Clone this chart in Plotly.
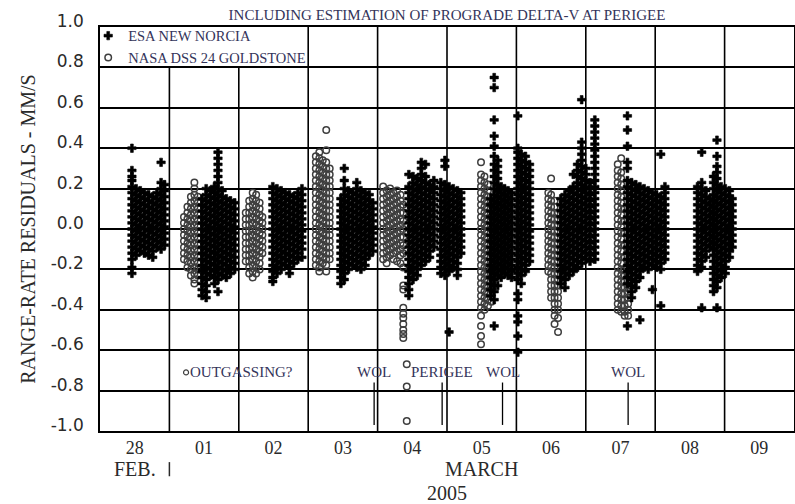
import plotly.graph_objects as go

# Range-rate residuals (mm/s) per tracking pass.
# Each pass is a list of (time in days since 28 Feb 2005 00:00 UT, [residuals ...]).

esa_feb28 = [
    (0.46, [.40, .29, .26, .24, .21, .18, .15, .12, .09, .06, .03, .00, -.03, -.06, -.09, -.12, -.15, -.19, -.22]),
    (0.52, [.20, .17, .14, .11, .08, .05, .02, -.01, -.04, -.07, -.10, -.13]),
    (0.58, [.19, .16, .13, .10, .07, .04, .01, -.02, -.05, -.08, -.11]),
    (0.64, [.18, .15, .12, .09, .06, .03, .00, -.03, -.06, -.09, -.12]),
    (0.70, [.17, .14, .11, .08, .05, .02, -.01, -.04, -.07, -.10, -.13]),
    (0.76, [.16, .13, .10, .07, .04, .01, -.02, -.05, -.08, -.11, -.14]),
    (0.82, [.18, .15, .12, .09, .06, .03, .00, -.03, -.06, -.09]),
    (0.88, [.33, .23, .20, .17, .14, .11, .08, .05, .02, -.01, -.04, -.07, -.10]),
    (0.93, [.22, .19, .16, .13, .10, .07, .04, .01, -.02, -.05, -.08]),
]

esa_mar01 = [
    (1.47, [.15, .12, .09, .06, .03, .00, -.03, -.06, -.09, -.12, -.15, -.18, -.21, -.24, -.27, -.30, -.33]),
    (1.53, [.20, .17, .14, .11, .08, .05, .02, -.01, -.04, -.07, -.10, -.13, -.16, -.19, -.22, -.25, -.28, -.31, -.34]),
    (1.59, [.19, .16, .13, .10, .07, .04, .01, -.02, -.05, -.08, -.11, -.14, -.17, -.20, -.23]),
    (1.65, [.21, .18, .15, .12, .09, .06, .03, .00, -.03, -.06, -.09, -.12, -.15, -.18, -.21, -.24, -.27]),
    (1.70, [.38, .35, .32, .29, .26, .23, .20, .17, .14, .11, .08, .05, .02, -.01, -.04, -.07, -.10, -.13, -.16, -.19, -.22, -.25, -.31]),
    (1.76, [.19, .16, .13, .10, .07, .04, .01, -.02, -.05, -.08, -.11, -.14, -.17, -.20, -.23]),
    (1.82, [.15, .12, .09, .06, .03, .00, -.03, -.06, -.09, -.12, -.15, -.18, -.21, -.24]),
    (1.88, [.14, .11, .08, .05, .02, -.01, -.04, -.07, -.10, -.13, -.16, -.19, -.22]),
    (1.94, [.13, .10, .07, .04, .01, -.02, -.05, -.08, -.11, -.14, -.17, -.20]),
]

esa_mar02 = [
    (2.49, [.21, .18, .15, .12, .09, .06, .03, .00, -.03, -.06, -.09, -.12, -.15, -.18, -.21, -.24, -.26]),
    (2.55, [.20, .17, .14, .11, .08, .05, .02, -.01, -.04, -.07, -.10, -.13, -.16, -.19, -.22]),
    (2.61, [.19, .16, .13, .10, .07, .04, .01, -.02, -.05, -.08, -.11, -.14, -.17, -.20]),
    (2.67, [.18, .15, .12, .09, .06, .03, .00, -.03, -.06, -.09, -.12, -.15, -.18]),
    (2.73, [.17, .14, .11, .08, .05, .02, -.01, -.04, -.07, -.10, -.13, -.16, -.19, -.22]),
    (2.79, [.16, .13, .10, .07, .04, .01, -.02, -.05, -.08, -.11, -.14, -.17]),
    (2.85, [.18, .15, .12, .09, .06, .03, .00, -.03, -.06, -.09, -.12, -.15]),
    (2.91, [.20, .17, .14, .11, .08, .05, .02, -.01, -.04, -.07, -.10, -.14]),
]

esa_mar03 = [
    (3.47, [.15, .12, .09, .06, .03, .00, -.03, -.06, -.09, -.12, -.15, -.18, -.21, -.24, -.27]),
    (3.52, [.30, .24, .20, .17, .14, .11, .08, .05, .02, -.01, -.04, -.07, -.10, -.13, -.16, -.19, -.22, -.25]),
    (3.58, [.19, .16, .13, .10, .07, .04, .01, -.02, -.05, -.08, -.11, -.14, -.17, -.20]),
    (3.64, [.18, .15, .12, .09, .06, .03, .00, -.03, -.06, -.09, -.12, -.15, -.18]),
    (3.70, [.23, .20, .17, .14, .11, .08, .05, .02, -.01, -.04, -.07, -.10, -.13, -.16, -.19]),
    (3.76, [.19, .16, .13, .10, .07, .04, .01, -.02, -.05, -.08, -.11, -.14, -.17, -.20]),
    (3.82, [.18, .15, .12, .09, .06, .03, .00, -.03, -.06, -.09, -.12, -.15, -.18]),
    (3.88, [.17, .14, .11, .08, .05, .02, -.01, -.04, -.07, -.10, -.13]),
    (3.93, [.13, .10, .07, .04, .01, -.02, -.05, -.08, -.11]),
]

esa_mar04 = [
    (4.45, [.27, .21, .18, .15, .12, .09, .06, .03, .00, -.03, -.06, -.09, -.12, -.15, -.18, -.21, -.24, -.27, -.30, -.33]),
    (4.51, [.26, .23, .20, .17, .14, .11, .08, .05, .02, -.01, -.04, -.07, -.10, -.13, -.16, -.19, -.22, -.25]),
    (4.57, [.25, .22, .19, .16, .13, .10, .07, .04, .01, -.02, -.05, -.08, -.11, -.14, -.17, -.20, -.23]),
    (4.63, [.33, .30, .27, .24, .21, .18, .15, .12, .09, .06, .03, .00, -.03, -.06, -.09, -.12, -.15, -.18]),
    (4.69, [.32, .26, .23, .20, .17, .14, .11, .08, .05, .02, -.01, -.04, -.07, -.10, -.13, -.16]),
    (4.75, [.22, .19, .16, .13, .10, .07, .04, .01, -.02, -.05, -.08, -.11, -.14]),
    (4.81, [.24, .21, .18, .15, .12, .09, .06, .03, .00, -.03, -.06, -.09]),
    (4.91, [.23, .20, .17, .14, .11, .08, .05, .02, -.01, -.04, -.07, -.10, -.13, -.16, -.19, -.22]),
    (4.97, [.34, .31, .22, .19, .16, .13, .10, .07, .04, .01, -.02, -.05, -.08, -.11, -.14, -.17, -.20, -.23]),
    (5.03, [.21, .18, .15, .12, .09, .06, .03, .00, -.03, -.06, -.09, -.12, -.15, -.18, -.21, -.51]),
    (5.09, [.20, .17, .14, .11, .08, .05, .02, -.01, -.04, -.07, -.10, -.13, -.16, -.19]),
    (5.15, [.19, .16, .13, .10, .07, .04, .01, -.02, -.05, -.08, -.11, -.14, -.17, -.20, -.23]),
    (5.20, [.18, .15, .12, .09, .06, .03, .00, -.03, -.06, -.09, -.12]),
]

esa_mar05 = [
    (5.63, [.15, .12, .09, .06, .03, .00, -.03, -.06, -.09, -.12, -.15, -.18, -.21, -.24, -.27, -.30, -.33]),
    (5.68, [.75, .70, .54, .46, .41, .36, .32, .29, .26, .23, .20, .17, .14, .11, .08, .05, .02, -.01, -.04,
            -.07, -.10, -.13, -.16, -.19, -.22, -.25, -.28, -.31, -.35, -.48]),
    (5.73, [.34, .31, .28, .25, .22, .19, .16, .13, .10, .07, .04, .01, -.02, -.05, -.08, -.11, -.14, -.17, -.20, -.23, -.28]),
    (5.78, [.21, .18, .15, .12, .09, .06, .03, .00, -.03, -.06, -.09, -.12, -.15, -.18, -.21, -.24]),
    (5.83, [.20, .17, .14, .11, .08, .05, .02, -.01, -.04, -.07, -.10, -.13, -.16, -.19, -.22]),
    (5.88, [.19, .16, .13, .10, .07, .04, .01, -.02, -.05, -.08, -.11, -.14, -.17, -.20, -.23]),
    (5.93, [.18, .15, .12, .09, .06, .03, .00, -.03, -.06, -.09, -.12, -.15, -.18, -.21, -.24]),
    (6.02, [.56, .40, .38, .35, .32, .29, .26, .23, .20, .17, .14, .11, .08, .05, .02, -.01, -.04, -.07,
            -.10, -.13, -.16, -.19, -.22, -.25, -.32, -.35, -.43, -.46, -.53, -.61]),
    (6.07, [.37, .34, .31, .28, .25, .22, .19, .16, .13, .10, .07, .04, .01, -.02, -.05, -.08, -.11, -.14, -.17, -.20, -.23, -.27]),
    (6.13, [.36, .33, .30, .27, .24, .21, .18, .15, .12, .09, .06, .03, .00, -.03, -.06, -.09, -.12, -.15, -.18, -.21]),
    (6.19, [.32, .29, .26, .23, .20, .17, .14, .11, .08, .05, .02, -.01, -.04, -.07, -.10, -.13, -.16]),
]

esa_mar06 = [
    (6.64, [.15, .12, .09, .06, .03, .00, -.03, -.06, -.09, -.12, -.15, -.18, -.21, -.24, -.27]),
    (6.70, [.17, .14, .11, .08, .05, .02, -.01, -.04, -.07, -.10, -.13, -.16, -.19, -.22, -.25, -.29]),
    (6.76, [.19, .16, .13, .10, .07, .04, .01, -.02, -.05, -.08, -.11, -.14, -.17, -.20, -.23]),
    (6.82, [.27, .21, .18, .15, .12, .09, .06, .03, .00, -.03, -.06, -.09, -.12, -.15, -.18, -.21]),
    (6.88, [.32, .29, .26, .23, .20, .17, .14, .11, .08, .05, .02, -.01, -.04, -.07, -.10, -.13, -.16, -.19]),
    (6.94, [.64, .43, .40, .37, .34, .31, .28, .25, .22, .19, .16, .13, .10, .07, .04, .01, -.02, -.05, -.08, -.11, -.14, -.17]),
    (7.00, [.30, .27, .24, .21, .18, .15, .12, .09, .06, .03, .00, -.03, -.06, -.09, -.12, -.15]),
    (7.06, [.23, .20, .17, .14, .11, .08, .05, .02, -.01, -.04, -.07, -.10, -.13, -.16]),
    (7.13, [.54, .51, .48, .45, .42, .39, .36, .33, .30, .27, .24, .21, .18, .15, .12, .09, .06, .03, .00,
            -.03, -.06, -.09, -.12, -.15]),
]

esa_mar07 = [
    (7.60, [.56, .49, .41, .33, .30, .24, .21, .18, .15, .12, .09, .06, .03, .00, -.03, -.06, -.09, -.12,
            -.15, -.18, -.21, -.24, -.27, -.48]),
    (7.66, [.23, .20, .17, .14, .11, .08, .05, .02, -.01, -.04, -.07, -.10, -.13, -.16, -.19, -.22, -.25, -.28, -.31, -.34]),
    (7.72, [.22, .19, .16, .13, .10, .07, .04, .01, -.02, -.05, -.08, -.11, -.14, -.17, -.20, -.23, -.26, -.29]),
    (7.78, [.21, .18, .15, .12, .09, .06, .03, .00, -.03, -.06, -.09, -.12, -.15, -.18, -.21, -.24, -.45]),
    (7.84, [.20, .17, .14, .11, .08, .05, .02, -.01, -.04, -.07, -.10, -.13, -.16, -.19]),
    (7.90, [.19, .16, .13, .10, .07, .04, .01, -.02, -.05, -.08, -.11, -.14, -.17, -.20]),
    (7.96, [.18, .15, .12, .09, .06, .03, .00, -.03, -.06, -.09, -.12, -.15, -.18, -.30]),
    (8.02, [.17, .14, .11, .08, .05, .02, -.01, -.04, -.07, -.10, -.13, -.16, -.19]),
    (8.08, [.37, .16, .13, .10, .07, .04, .01, -.02, -.05, -.08, -.11, -.14, -.17, -.20, -.38]),
    (8.14, [.21, .18, .15, .12, .09, .06, .03, .00, -.03, -.06, -.09, -.12, -.15]),
]

esa_mar08 = [
    (8.61, [.21, .18, .15, .12, .09, .06, .03, .00, -.03, -.06, -.09, -.12, -.15, -.18, -.21]),
    (8.67, [.38, .23, .20, .17, .14, .11, .08, .05, .02, -.01, -.04, -.07, -.10, -.13, -.16, -.19, -.39]),
    (8.73, [.19, .16, .13, .10, .07, .04, .01, -.02, -.05, -.08, -.11, -.14]),
    (8.79, [.15, .12, .09, .06, .03, .00, -.03, -.06, -.09]),
    (8.84, [.26, .23, .20, .17, .14, .11, .08, .05, .02, -.01, -.04, -.07, -.10, -.13, -.16, -.19, -.22, -.25, -.28, -.31]),
    (8.89, [.44, .36, .31, .28, .25, .22, .19, .16, .13, .10, .07, .04, .01, -.02, -.05, -.08, -.11, -.14,
            -.17, -.20, -.23, -.26, -.29, -.39]),
    (8.95, [.21, .18, .15, .12, .09, .06, .03, .00, -.03, -.06, -.09, -.12, -.15, -.18, -.21, -.24]),
    (9.01, [.20, .17, .14, .11, .08, .05, .02, -.01, -.04, -.07, -.10, -.13, -.16, -.19, -.22]),
    (9.07, [.19, .16, .13, .10, .07, .04, .01, -.02, -.05, -.08, -.11, -.14]),
    (9.11, [.15, .12, .09, .06, .03, .00, -.03, -.06, -.09]),
]

dss_mar01 = [
    (1.21, [.06, .03, .00, -.03, -.06, -.09, -.12, -.15]),
    (1.26, [.11, .08, .05, .02, -.01, -.04, -.07, -.10, -.13, -.16, -.19]),
    (1.31, [.16, .13, .10, .07, .04, .01, -.02, -.05, -.08, -.11, -.14, -.17, -.20, -.23]),
    (1.36, [.23, .20, .17, .14, .11, .08, .05, .02, -.01, -.04, -.07, -.10, -.13, -.16, -.19, -.22, -.25, -.27]),
    (1.41, [.16, .13, .10, .07, .04, .01, -.02, -.05, -.08, -.11, -.14, -.17, -.20, -.23]),
]

dss_mar02 = [
    (2.10, [.08, .05, .02, -.01, -.04, -.07, -.10, -.13, -.16]),
    (2.15, [.14, .11, .08, .05, .02, -.01, -.04, -.07, -.10, -.13, -.16, -.19, -.22]),
    (2.20, [.18, .15, .12, .09, .06, .03, .00, -.03, -.06, -.09, -.12, -.15, -.18, -.21, -.24]),
    (2.25, [.17, .14, .11, .08, .05, .02, -.01, -.04, -.07, -.10, -.13, -.16, -.19, -.22]),
    (2.30, [.13, .10, .07, .04, .01, -.02, -.05, -.08, -.11, -.14, -.17, -.20]),
    (2.34, [.06, .03, .00, -.03, -.06, -.09, -.12]),
]

dss_mar03 = [
    (3.11, [.36, .33, .30, .27, .24, .21, .18, .15, .12, .09, .06, .03, .00, -.03, -.06, -.09, -.12, -.15, -.18]),
    (3.16, [.38, .35, .32, .29, .26, .23, .20, .17, .14, .11, .08, .05, .02, -.01, -.04, -.07, -.10, -.13, -.16, -.19, -.21]),
    (3.21, [.34, .31, .28, .25, .22, .19, .16, .13, .10, .07, .04, .01, -.02, -.05, -.08, -.11, -.14, -.17]),
    (3.26, [.49, .39, .33, .30, .27, .24, .21, .18, .15, .12, .09, .06, .03, .00, -.03, -.06, -.09, -.12, -.15, -.18, -.21]),
    (3.31, [.30, .27, .24, .21, .18, .15, .12, .09, .06, .03, .00, -.03, -.06, -.09, -.12, -.15]),
]

dss_mar04 = [
    (4.08, [.21, .18, .15, .12, .09, .06, .03, .00, -.03, -.06, -.09, -.12, -.15]),
    (4.13, [.19, .16, .13, .10, .07, .04, .01, -.02, -.05, -.08, -.11, -.14, -.17]),
    (4.18, [.20, .17, .14, .11, .08, .05, .02, -.01, -.04, -.07, -.10, -.13]),
    (4.23, [.18, .15, .12, .09, .06, .03, .00, -.03, -.06, -.09, -.12, -.15]),
    (4.28, [.19, .16, .13, .10, .07, .04, .01, -.02, -.05, -.08, -.11, -.16]),
    (4.33, [.17, .14, .11, .08, .05, .02, -.01, -.04, -.07, -.10, -.13, -.17]),
    (4.37, [.12, .08, .04, .00, -.04, -.08, -.12, -.19, -.28, -.30, -.39, -.42, -.44, -.47, -.50, -.52, -.54]),
    (4.42, [-.67, -.78, -.95]),
]

dss_mar05 = [
    (5.49, [.33, .27, .24, .21, .18, .15, .12, .09, .06, .03, .00, -.03, -.06, -.09, -.12, -.15, -.18, -.21,
            -.24, -.27, -.30, -.33, -.36, -.39, -.43, -.48, -.53, -.57]),
    (5.54, [.26, .23, .20, .17, .14, .11, .08, .05, .02, -.01, -.04, -.07, -.10, -.13, -.16, -.19, -.22, -.25,
            -.28, -.31, -.34, -.37, -.40]),
    (5.59, [.22, .19, .16, .13, .10, .07, .04, .01, -.02, -.05, -.08, -.11, -.14, -.17, -.20, -.23, -.26, -.29, -.32, -.35, -.38]),
    (5.64, [.12, .06, .00, -.06, -.12, -.18, -.24, -.30, -.36]),
]

dss_mar06 = [
    (6.46, [.18, .15, .12, .09, .06, .03, .00, -.03, -.06, -.09, -.12, -.15, -.18, -.21]),
    (6.50, [.25, .17, .14, .11, .08, .05, .02, -.01, -.04, -.07, -.10, -.13, -.16, -.19, -.22, -.25, -.28, -.31, -.34]),
    (6.55, [.14, .11, .08, .05, .02, -.01, -.04, -.07, -.10, -.13, -.16, -.19, -.22, -.25, -.28, -.31, -.34,
            -.37, -.40, -.43, -.47]),
    (6.60, [.08, .05, .02, -.01, -.04, -.07, -.10, -.13, -.16, -.19, -.22, -.25, -.28, -.31, -.34, -.37, -.40, -.44, -.51]),
]

dss_mar07 = [
    (7.46, [.32, .29, .26, .23, .20, .17, .14, .11, .08, .05, .02, -.01, -.04, -.07, -.10, -.13, -.16, -.19,
            -.22, -.25, -.28, -.31, -.34, -.37, -.40]),
    (7.51, [.35, .28, .25, .22, .19, .16, .13, .10, .07, .04, .01, -.02, -.05, -.08, -.11, -.14, -.17, -.20,
            -.23, -.26, -.29, -.32, -.35, -.38, -.41]),
    (7.56, [.10, .04, -.02, -.08, -.14, -.20, -.23, -.26, -.29, -.32, -.35, -.38, -.41, -.43]),
    (7.61, [-.10, -.16, -.22, -.28, -.31, -.34, -.37, -.40, -.43]),
]

esa_passes = [esa_feb28, esa_mar01, esa_mar02, esa_mar03, esa_mar04, esa_mar05, esa_mar06, esa_mar07, esa_mar08]
dss_passes = [dss_mar01, dss_mar02, dss_mar03, dss_mar04, dss_mar05, dss_mar06, dss_mar07]

day_centres = [0.5, 1.5, 2.5, 3.5, 4.5, 5.5, 6.5, 7.5, 8.5, 9.5]
day_labels = ["28", "01", "02", "03", "04", "05", "06", "07", "08", "09"]
day_bounds = [1, 2, 3, 4, 5, 6, 7, 8, 9]

y_ticks = [1.0, 0.8, 0.6, 0.4, 0.2, 0.0, -0.2, -0.4, -0.6, -0.8, -1.0]
y_labels = ["1.0", "0.8", "0.6", "0.4", "0.2", "0.0", "-0.2", "-0.4", "-0.6", "-0.8", "-1.0"]

# Spacecraft events (label, time in days since 28 Feb 00:00)
events = [("WOL", 3.95), ("PERIGEE", 4.93), ("WOL", 5.80), ("WOL", 7.61)]
outgassing_note = ("OUTGASSING?", 1.24, -0.71)

month_labels = [("FEB.", 0.5), ("MARCH", 5.5)]
month_boundary = 1.0
year_label = ("2005", 5.0)

# the key occupies the top row of the first three day cells
key_panel = dict(x1=3.0, y0=0.8)


def flatten(passes):
    xs, ys = [], []
    for p in passes:
        for t, vals in p:
            xs.extend([t] * len(vals))
            ys.extend(vals)
    return xs, ys


esa_x, esa_y = flatten(esa_passes)
dss_x, dss_y = flatten(dss_passes)

SERIF = "Liberation Serif, Times New Roman, serif"
INK = "#2a2a2a"
NOTE = "#34345a"
GRAY = "#3e3e3e"

fig = go.Figure()

fig.add_trace(go.Scatter(
    x=dss_x, y=dss_y, mode="markers", name="NASA DSS 24 GOLDSTONE", legendrank=2,
    marker=dict(symbol="circle-open", size=6.5, color=GRAY, line=dict(width=1.5, color=GRAY)),
    hoverinfo="skip",
))
fig.add_trace(go.Scatter(
    x=esa_x, y=esa_y, mode="markers", name="ESA NEW NORCIA", legendrank=1,
    marker=dict(symbol="cross", size=7, color="black", line=dict(width=0.6, color="black")),
    hoverinfo="skip",
))
# marker placed beside the outgassing note
fig.add_trace(go.Scatter(
    x=[outgassing_note[1]], y=[outgassing_note[2]], mode="markers", showlegend=False,
    marker=dict(symbol="circle-open", size=5, color=GRAY, line=dict(width=1.2, color=GRAY)),
    hoverinfo="skip",
))

shapes = []
# day boundaries; those under the key stop at its lower edge
for b in day_bounds:
    top = key_panel["y0"] if b < key_panel["x1"] else 1.0
    shapes.append(dict(type="line", xref="x", yref="y", x0=b, x1=b, y0=-1.0, y1=top,
                       line=dict(color="black", width=1.6), layer="below"))

annotations = []
for name, t in events:
    shapes.append(dict(type="line", xref="x", yref="y", x0=t, x1=t, y0=-0.76, y1=-0.97,
                       line=dict(color="black", width=1.3)))
    annotations.append(dict(x=t, y=-0.71, xref="x", yref="y", text=name, showarrow=False,
                            font=dict(family=SERIF, size=15, color=NOTE)))

annotations.append(dict(x=outgassing_note[1] + 0.03, y=outgassing_note[2], xref="x", yref="y",
                        text=outgassing_note[0], showarrow=False, xanchor="left",
                        font=dict(family=SERIF, size=15, color=NOTE)))

for txt, t in month_labels:
    annotations.append(dict(x=t, y=0, xref="x", yref="paper", yanchor="middle", yshift=-38,
                            text=txt, showarrow=False, font=dict(family=SERIF, size=20, color=INK)))
annotations.append(dict(x=year_label[1], y=0, xref="x", yref="paper", yanchor="middle", yshift=-62,
                        text=year_label[0], showarrow=False, font=dict(family=SERIF, size=20, color=INK)))
# tick separating February from March below the day labels
shapes.append(dict(type="line", xref="x", yref="paper", x0=month_boundary, x1=month_boundary,
                   y0=-0.077, y1=-0.112, line=dict(color=INK, width=1.5)))

fig.update_layout(
    width=795, height=504,
    margin=dict(l=100, r=1, t=27, b=73),
    paper_bgcolor="white", plot_bgcolor="white",
    title=dict(text="INCLUDING ESTIMATION OF PROGRADE DELTA-V AT PERIGEE",
               x=0.5, xref="paper", xanchor="center", y=1 - 15 / 504, yref="container", yanchor="middle",
               font=dict(family=SERIF, size=15, color=NOTE)),
    showlegend=True,
    legend=dict(x=-0.017, y=1.018, xanchor="left", yanchor="top", bgcolor="rgba(0,0,0,0)",
                font=dict(family=SERIF, size=14.5, color=NOTE), tracegroupgap=0, itemwidth=30),
    shapes=shapes,
    annotations=annotations,
)

fig.update_xaxes(
    range=[0, 10], showline=True, mirror=True, linecolor="black", linewidth=1.6,
    tickmode="array", tickvals=day_centres, ticktext=day_labels, ticks="",
    tickfont=dict(family=SERIF, size=18, color=INK), ticklabelstandoff=0,
    showgrid=False, zeroline=False, automargin=False,
)
fig.update_yaxes(
    range=[-1, 1], showline=True, mirror=True, linecolor="black", linewidth=1.6,
    tickmode="array", tickvals=y_ticks, ticktext=y_labels, ticks="",
    tickfont=dict(family="DejaVu Sans", size=17, color=INK), ticklabelstandoff=11, ticklabelshift=-6,
    showgrid=True, gridcolor="black", gridwidth=1.6, zeroline=False, automargin=False,
    title=dict(text="RANGE-RATE RESIDUALS - MM/S", standoff=10, font=dict(family=SERIF, size=20, color=INK)),
)

fig.write_html("out.html")
